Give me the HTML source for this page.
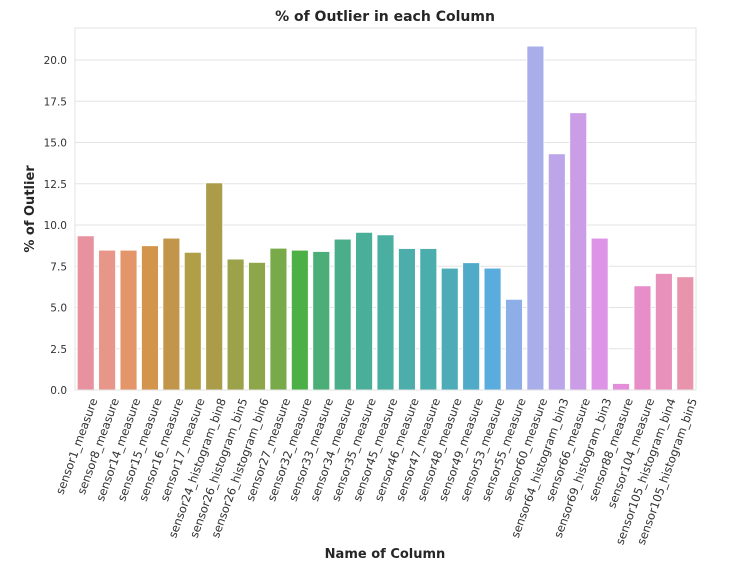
<!DOCTYPE html>
<html><head><meta charset="utf-8"><style>
html,body{margin:0;padding:0;background:#fff;}
svg{display:block;font-family:"DejaVu Sans","Liberation Sans",sans-serif;}
</style></head><body>
<svg id="chart" width="750" height="578">
<text x="385" y="21" text-anchor="middle" font-size="14" font-weight="bold" fill="#262626">% of Outlier in each Column</text>
<text transform="translate(34,209) rotate(-90)" text-anchor="middle" font-size="13" font-weight="bold" fill="#262626">% of Outlier</text>
<text x="385" y="558" text-anchor="middle" font-size="13" font-weight="bold" fill="#262626">Name of Column</text>
<g id="grid"></g><g id="bars"></g><g id="yticks"></g><g id="xticks"></g>
<rect x="75" y="28" width="621" height="362" fill="none" stroke="#e3e3e3" stroke-width="1"/>
</svg>
<script>
const categories = ["sensor1_measure","sensor8_measure","sensor14_measure","sensor15_measure","sensor16_measure","sensor17_measure","sensor24_histogram_bin8","sensor26_histogram_bin5","sensor26_histogram_bin6","sensor27_measure","sensor32_measure","sensor33_measure","sensor34_measure","sensor35_measure","sensor45_measure","sensor46_measure","sensor47_measure","sensor48_measure","sensor49_measure","sensor53_measure","sensor55_measure","sensor60_measure","sensor64_histogram_bin3","sensor66_measure","sensor69_histogram_bin3","sensor88_measure","sensor104_measure","sensor105_histogram_bin4","sensor105_histogram_bin5"];
const values = [9.35,8.48,8.48,8.75,9.21,8.35,12.56,7.94,7.74,8.6,8.48,8.4,9.15,9.56,9.41,8.58,8.58,7.39,7.72,7.39,5.5,20.85,14.32,16.81,9.21,0.4,6.32,7.07,6.87];
const colors = ["#e8929f","#e8958a","#e4956a","#d3944c","#c2964a","#b19f48","#aa9c48","#9ca24a","#8ea64a","#78aa4a","#4db046","#4bae78","#4aae8a","#4aaf98","#4aaea0","#4cadab","#4cadad","#4eacb9","#50abc9","#5aacdf","#8daee6","#a8aee9","#bca5e8","#cb9de6","#dd93e6","#e48ed9","#e78ec9","#e891bb","#e894ad"];
const yTicks = [0,2.5,5,7.5,10,12.5,15,17.5,20];
const NS="http://www.w3.org/2000/svg";
const L=75,R=696,T=28,B=390,yMax=21.94;
const y=v=>B-(v/yMax)*(B-T);
const step=(R-L)/categories.length;
const x=i=>L+i*step;
const mk=(t,a)=>{const e=document.createElementNS(NS,t);for(const k in a)e.setAttribute(k,a[k]);return e;};
const grid=document.getElementById('grid'),yt=document.getElementById('yticks');
yTicks.forEach(t=>{
  const ln=mk('line',{x1:L,x2:R,y1:y(t),y2:y(t),stroke:'#e3e3e3','stroke-width':1});
  
  
  grid.appendChild(ln);
  const tx=mk('text',{x:L-8,y:y(t)+4,'text-anchor':'end','font-size':10.5,fill:'#333'});
  tx.textContent=t.toFixed(1);
  
  
  yt.appendChild(tx);
});
const bars=document.getElementById('bars'),xt=document.getElementById('xticks');
categories.forEach((c,i)=>{
  const b=mk('rect',{x:x(i)+step*0.1,y:y(values[i]),width:step*0.8,height:B-y(values[i]),fill:colors[i],stroke:'#fff','stroke-width':1});
  
  
  bars.appendChild(b);
  const cx=x(i)+step/2+12;
  const tx=mk('text',{transform:`translate(${cx},400) rotate(-70)`,'text-anchor':'end','font-size':11.5,fill:'#333'});
  tx.textContent=c;
  
  
  xt.appendChild(tx);
});
</script>
</body></html>
